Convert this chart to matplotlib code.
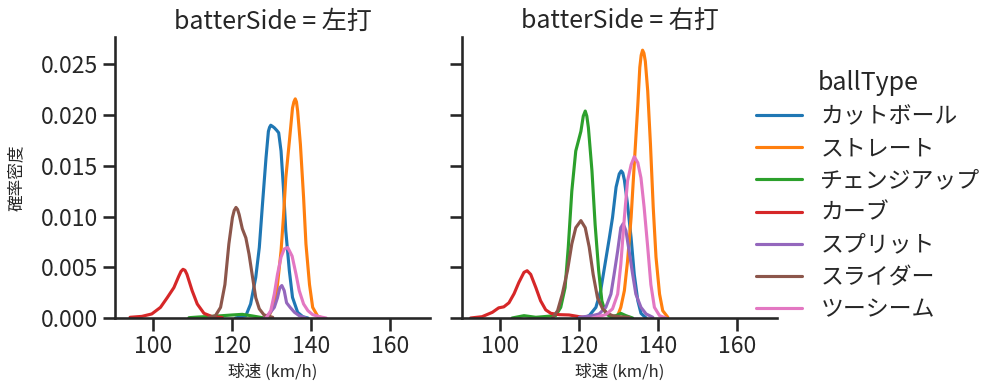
import matplotlib
matplotlib.use("Agg")
import matplotlib.pyplot as plt
import seaborn as sns

sns.set_theme(context="talk", style="ticks")
plt.rcParams['font.family'] = ['Noto Sans CJK JP', 'DejaVu Sans']

ball_types = ["カットボール", "ストレート", "チェンジアップ", "カーブ", "スプリット", "スライダー", "ツーシーム"]
sides = ["左打", "右打"]

# KDE curves: (speed km/h, density)
# --- 左打 ---
L_cut_x = [120.9, 123.5, 124.7, 126.0, 126.9, 127.7, 128.6, 129.2, 129.5, 129.8, 130.2, 130.7, 131.3, 131.8, 132.4, 133.0, 133.6, 134.5, 135.3, 136.6, 137.9, 139.2]
L_cut_y = [0.0, 0.00023, 0.00138, 0.0040, 0.00695, 0.0112, 0.0158, 0.0184, 0.0188, 0.0190, 0.0189, 0.01875, 0.0185, 0.01826, 0.01646, 0.01285, 0.0086, 0.00466, 0.00203, 0.00056, 0.00013, 0.0]
L_str_x = [127.7, 129.4, 130.7, 131.5, 132.4, 133.0, 133.6, 134.5, 135.3, 135.65, 136.0, 136.3, 136.6, 137.3, 138.1, 138.7, 139.6, 140.4, 141.7, 143.0]
L_str_y = [0.0, 0.00023, 0.00138, 0.0033, 0.0066, 0.0099, 0.0138, 0.0174, 0.0207, 0.0213, 0.0216, 0.0213, 0.0204, 0.0171, 0.0119, 0.0073, 0.0033, 0.00105, 0.00016, 0.0]
L_chg_x = [109.1, 111.6, 115.8, 120.1, 122.6, 125.2, 127.7]
L_chg_y = [0.00003, 0.0001, 0.00018, 0.0003, 0.00036, 0.0002, 0.00003]
L_crv_x = [94.2, 97.2, 99.7, 101.9, 103.6, 105.3, 106.5, 107.1, 107.6, 108.1, 108.6, 109.9, 111.2, 112.9, 115.0, 117.5]
L_crv_y = [0.00007, 0.00016, 0.0004, 0.00105, 0.0020, 0.0030, 0.0041, 0.0046, 0.0048, 0.0047, 0.0043, 0.0027, 0.00138, 0.00046, 0.00013, 0.00005]
L_spl_x = [128.1, 129.4, 130.7, 131.5, 132.1, 132.6, 133.2, 133.8, 134.7, 135.8, 137.0, 138.7]
L_spl_y = [0.0, 0.0004, 0.00105, 0.0020, 0.0030, 0.0032, 0.0027, 0.0015, 0.00105, 0.00056, 0.00023, 0.0]
L_sld_x = [114.2, 115.8, 117.1, 118.2, 119.2, 120.1, 120.55, 121.0, 121.4, 121.8, 122.6, 123.5, 124.3, 125.2, 126.0, 126.9, 128.1, 130.3]
L_sld_y = [0.00007, 0.00023, 0.00105, 0.0033, 0.0073, 0.0099, 0.0106, 0.0109, 0.0107, 0.0102, 0.0088, 0.0079, 0.0063, 0.0040, 0.0020, 0.0009, 0.0003, 0.00007]
L_two_x = [128.6, 129.8, 130.7, 131.5, 132.4, 133.2, 134.1, 135.2, 136.2, 137.0, 138.1, 139.2, 140.4, 142.1, 143.8]
L_two_y = [0.0, 0.00072, 0.00236, 0.0043, 0.0060, 0.0068, 0.00695, 0.0061, 0.0043, 0.0027, 0.00138, 0.00072, 0.00033, 0.00013, 0.0]

# --- 右打 ---
R_cut_x = [120.9, 122.6, 124.3, 125.5, 126.6, 127.7, 128.5, 129.4, 130.2, 130.7, 131.1, 131.5, 132.3, 133.2, 134.0, 134.9, 135.7, 137.0]
R_cut_y = [0.0, 0.00023, 0.00105, 0.0027, 0.0053, 0.0079, 0.0099, 0.0129, 0.0142, 0.0145, 0.0143, 0.0136, 0.0112, 0.0079, 0.0043, 0.0017, 0.00046, 0.0]
R_str_x = [128.5, 129.8, 130.6, 131.5, 132.3, 133.2, 134.0, 134.9, 135.4, 135.75, 136.1, 136.45, 136.8, 137.4, 138.1, 138.8, 139.5, 140.4, 141.2, 142.5]
R_str_y = [0.0, 0.00023, 0.00105, 0.0027, 0.0056, 0.0099, 0.01515, 0.0210, 0.0247, 0.0259, 0.0264, 0.0261, 0.0253, 0.0224, 0.0171, 0.0109, 0.0060, 0.00236, 0.00072, 0.00007]
R_chg_x = [103.1, 106.1, 109.1, 114.1, 115.4, 116.5, 117.3, 118.2, 119.2, 120.5, 121.1, 121.6, 122.0, 122.4, 123.3, 124.1, 125.0, 125.8, 126.8, 128.1, 129.4, 130.6, 131.9, 133.6]
R_chg_y = [0.0, 0.00023, 0.00007, 0.00023, 0.00105, 0.0030, 0.00695, 0.0125, 0.01646, 0.0184, 0.0199, 0.0204, 0.0199, 0.01875, 0.0145, 0.0092, 0.00466, 0.0017, 0.0004, 0.00013, 0.00023, 0.00046, 0.00023, 0.0]
R_crv_x = [92.6, 95.5, 98.1, 99.7, 101.0, 102.3, 103.6, 104.8, 106.1, 106.9, 107.8, 109.1, 110.3, 111.6, 112.9, 115.0, 117.5, 120.1, 122.6]
R_crv_y = [0.0, 0.00013, 0.00056, 0.0010, 0.0011, 0.0015, 0.0024, 0.0035, 0.0045, 0.00466, 0.0043, 0.0030, 0.0017, 0.0008, 0.00046, 0.00033, 0.0003, 0.00013, 0.0]
R_spl_x = [120.1, 123.4, 125.1, 126.8, 128.1, 128.9, 129.8, 130.6, 131.2, 131.9, 132.7, 133.6, 134.4, 135.7, 137.0, 138.7]
R_spl_y = [0.00007, 0.00023, 0.0004, 0.00105, 0.00236, 0.0043, 0.0066, 0.0089, 0.0093, 0.0086, 0.0066, 0.0043, 0.00236, 0.00105, 0.0004, 0.00007]
R_sld_x = [113.3, 114.6, 115.8, 117.1, 118.2, 119.2, 120.5, 121.6, 122.6, 123.6, 124.7, 126.0, 127.2, 128.5, 130.2, 132.7]
R_sld_y = [0.0, 0.00072, 0.00236, 0.00466, 0.0073, 0.0089, 0.0096, 0.0089, 0.0070, 0.0043, 0.0020, 0.0009, 0.00046, 0.00023, 0.00013, 0.00007]
R_two_x = [123.4, 126.8, 128.5, 129.8, 130.6, 131.5, 132.3, 133.2, 134.0, 134.9, 135.7, 136.5, 137.4, 138.2, 139.1, 140.4, 142.0]
R_two_y = [0.0, 0.00033, 0.0009, 0.00236, 0.0053, 0.0099, 0.0135, 0.0151, 0.0159, 0.0153, 0.0138, 0.0109, 0.0070, 0.0033, 0.00105, 0.00023, 0.0]

curves = {
    "左打": [(L_cut_x, L_cut_y), (L_str_x, L_str_y), (L_chg_x, L_chg_y), (L_crv_x, L_crv_y),
             (L_spl_x, L_spl_y), (L_sld_x, L_sld_y), (L_two_x, L_two_y)],
    "右打": [(R_cut_x, R_cut_y), (R_str_x, R_str_y), (R_chg_x, R_chg_y), (R_crv_x, R_crv_y),
             (R_spl_x, R_spl_y), (R_sld_x, R_sld_y), (R_two_x, R_two_y)],
}

colors = sns.color_palette("tab10", len(ball_types))

fig = plt.figure(figsize=(10.02, 3.91), dpi=100)
ax1 = fig.add_axes([0.1148, 0.1867, 0.3144, 0.7187])
ax2 = fig.add_axes([0.461, 0.1867, 0.3144, 0.7187], sharey=ax1, sharex=ax1)

handles = []
for ax, side in zip([ax1, ax2], sides):
    for (xs, ys), c, name in zip(curves[side], colors, ball_types):
        h, = ax.plot(xs, ys, color=c, lw=2.25, label=name)
        if side == "左打":
            handles.append(h)
    ax.set_title(f"batterSide = {side}")
    ax.set_xlabel("球速 (km/h)", fontsize=12)
    sns.despine(ax=ax)

ax1.set_ylabel("確率密度", fontsize=12, labelpad=11)
ax1.set_xlim(90.4, 170.1)
ax1.set_ylim(0, 0.0277)
ax1.set_xticks([100, 120, 140, 160])
ax1.set_yticks([0, 0.005, 0.01, 0.015, 0.02, 0.025])
ax2.tick_params(labelleft=False)

fig.legend(handles=handles, title="ballType", loc="center left", bbox_to_anchor=(0.734, 0.5),
           frameon=False, labelspacing=0.4)

fig.savefig("out.png", dpi=100)
